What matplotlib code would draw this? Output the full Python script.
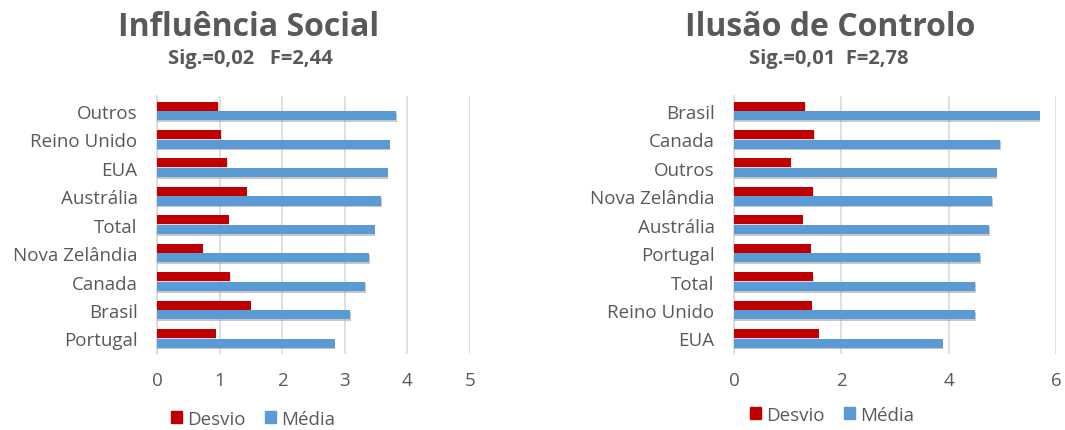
import matplotlib.pyplot as plt
import matplotlib.patheffects as pe
from matplotlib.patches import Patch
import numpy as np

plt.rcParams["font.family"] = ["Open Sans", "DejaVu Sans"]

RED = "#C00000"
BLUE = "#5B9BD5"
GREY = "#595959"

# Influência Social
soc_cats = ["Outros", "Reino Unido", "EUA", "Austrália", "Total",
            "Nova Zelândia", "Canada", "Brasil", "Portugal"]
soc_desvio = [0.98, 1.03, 1.12, 1.43, 1.15, 0.73, 1.17, 1.50, 0.94]
soc_media = [3.82, 3.72, 3.69, 3.58, 3.48, 3.39, 3.33, 3.09, 2.84]

# Ilusão de Controlo
ctl_cats = ["Brasil", "Canada", "Outros", "Nova Zelândia", "Austrália",
            "Portugal", "Total", "Reino Unido", "EUA"]
ctl_desvio = [1.33, 1.50, 1.06, 1.48, 1.28, 1.43, 1.48, 1.45, 1.58]
ctl_media = [5.70, 4.96, 4.90, 4.81, 4.76, 4.59, 4.50, 4.50, 3.89]


def draw_panel(ax, cats, desvio, media, xmax, step):
    y = np.arange(len(cats))
    h = 0.32
    ax.barh(y - 0.17, desvio, height=h, color=RED, zorder=3,
            path_effects=[pe.withSimplePatchShadow(offset=(0.3, -1.0), shadow_rgbFace="#b0b0b0", alpha=0.45)])
    ax.barh(y + 0.17, media, height=h, color=BLUE, zorder=3,
            path_effects=[pe.withSimplePatchShadow(offset=(0.3, -1.2), shadow_rgbFace="#999999", alpha=0.55)])
    ax.set_yticks(y)
    ax.set_yticklabels(cats)
    ax.set_ylim(len(cats) - 0.45, -0.53)
    ax.set_xlim(0, xmax)
    ax.set_xticks(np.arange(0, xmax + 0.01, step))
    ax.grid(axis="x", color="#D9D9D9", linewidth=1.2, zorder=0)
    for s in ["top", "right", "bottom"]:
        ax.spines[s].set_visible(False)
    ax.spines["left"].set_color("#D9D9D9")
    ax.spines["left"].set_linewidth(1.2)
    ax.tick_params(length=0, labelsize=13.5, labelcolor=GREY)
    ax.tick_params(axis="x", pad=12)
    ax.tick_params(axis="y", pad=14)


fig = plt.figure(figsize=(10.65, 4.31), dpi=100)
ax1 = fig.add_axes([0.1474, 0.1763, 0.2939, 0.599])
ax2 = fig.add_axes([0.6892, 0.1763, 0.3023, 0.599])

draw_panel(ax1, soc_cats, soc_desvio, soc_media, 5, 1)
draw_panel(ax2, ctl_cats, ctl_desvio, ctl_media, 6, 2)

fig.text(249 / 1065, 1 - 27 / 431, "Influência Social", ha="center", va="center",
         fontsize=23, fontweight="bold", color=GREY)
fig.text(250 / 1065, 1 - 59 / 431, "Sig.=0,02   F=2,44", ha="center", va="center",
         fontsize=14.5, fontweight="bold", color=GREY)
fig.text(830 / 1065, 1 - 27 / 431, "Ilusão de Controlo", ha="center", va="center",
         fontsize=23, fontweight="bold", color=GREY)
fig.text(829 / 1065, 1 - 59 / 431, "Sig.=0,01  F=2,78", ha="center", va="center",
         fontsize=14.5, fontweight="bold", color=GREY)

handles = [Patch(color=RED, label="Desvio"), Patch(color=BLUE, label="Média")]
for cx, cy in [(253, 420), (832, 416)]:
    fig.legend(handles=handles, loc="center", bbox_to_anchor=(cx / 1065, 1 - cy / 431),
               ncol=2, frameon=False, fontsize=13.5, labelcolor=GREY,
               handlelength=0.6, handleheight=0.6, handletextpad=0.3, columnspacing=1.0)

fig.savefig("out.png", dpi=100)
